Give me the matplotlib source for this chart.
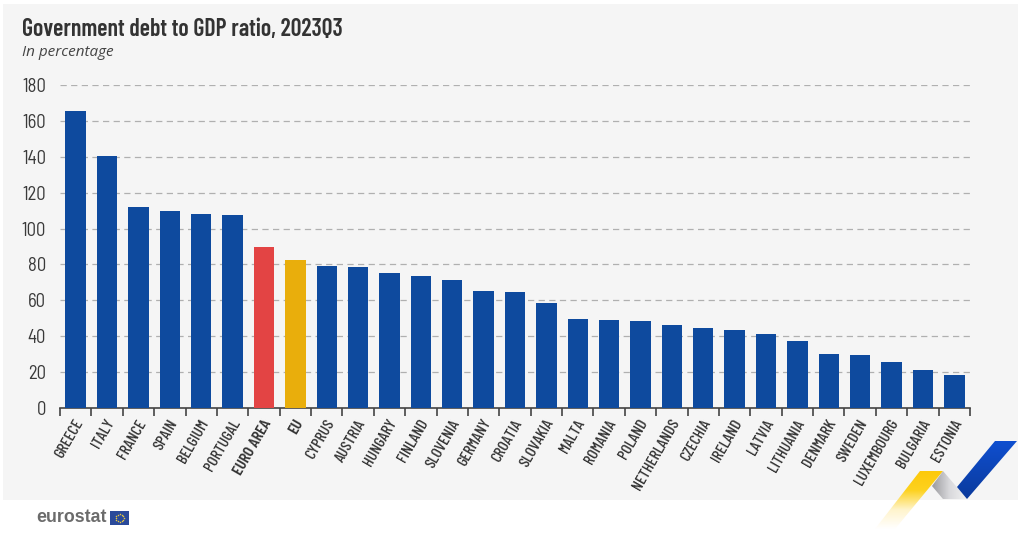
import numpy as np
import matplotlib
matplotlib.use('Agg')
import matplotlib.pyplot as plt
from matplotlib.patches import Polygon, Rectangle

countries = ['GREECE', 'ITALY', 'FRANCE', 'SPAIN', 'BELGIUM', 'PORTUGAL', 'EURO AREA', 'EU',
             'CYPRUS', 'AUSTRIA', 'HUNGARY', 'FINLAND', 'SLOVENIA', 'GERMANY', 'CROATIA',
             'SLOVAKIA', 'MALTA', 'ROMANIA', 'POLAND', 'NETHERLANDS', 'CZECHIA', 'IRELAND',
             'LATVIA', 'LITHUANIA', 'DENMARK', 'SWEDEN', 'LUXEMBOURG', 'BULGARIA', 'ESTONIA']
debt_ratio = [165.5, 140.6, 111.9, 109.8, 108.0, 107.5, 89.9, 82.6, 79.4, 78.3, 75.0, 73.6,
              71.5, 65.0, 64.6, 58.5, 49.4, 48.9, 48.7, 46.0, 44.6, 43.5, 41.4, 37.3, 30.1,
              29.6, 25.7, 21.0, 18.2]
y_ticks = [0, 20, 40, 60, 80, 100, 120, 140, 160, 180]

BLUE = '#0e4a9e'
RED = '#e34444'
YELLOW = '#e9ae0c'
TEXT = '#3a3a3a'
NARROW = ['Barlow Condensed', 'Roboto', 'DejaVu Sans']
SEMI = ['Barlow Semi Condensed', 'Roboto', 'DejaVu Sans']
W, H = 1024, 540

fig = plt.figure(figsize=(W / 100, H / 100), dpi=100, facecolor='white')

# background layer in pixel coords: panel, logos
bg = fig.add_axes([0, 0, 1, 1], zorder=0)
bg.set_xlim(0, W)
bg.set_ylim(H, 0)
bg.axis('off')
bg.add_patch(Rectangle((3, 4), 1015, 496, fc='#f5f5f5', ec='none'))


def gradient_poly(points, colors, extent, horizontal=False):
    ''' Polygon filled with a linear gradient between the given colours. '''
    cmap = matplotlib.colors.LinearSegmentedColormap.from_list('g', colors)
    grad = np.linspace(0, 1, 256)
    grad = grad.reshape(1, -1) if horizontal else grad.reshape(-1, 1)
    img = bg.imshow(grad, cmap=cmap, extent=extent, aspect='auto', origin='upper', zorder=2)
    patch = Polygon(points, closed=True, fc='none', ec='none', transform=bg.transData)
    bg.add_patch(patch)
    img.set_clip_path(patch)


gradient_poly([(920, 471), (943, 471), (895, 529), (875, 529)],
              ['#fdc90a', '#fdd21f', '#fff4cc', '#ffffff'], (875, 943, 529, 471))
gradient_poly([(943, 471), (967, 499), (943, 499), (932, 486)],
              ['#9a9a9e', '#d9d9dc', '#f2f2f2'], (932, 967, 499, 471), horizontal=True)
gradient_poly([(995, 441), (1017, 441), (967, 499), (957, 487)],
              ['#0f4fd0', '#0b3a9c'], (957, 1017, 499, 441))

# eurostat logo
bg.text(36, 518, 'eurostat', fontsize=12.8, fontweight='bold', color='#6b6b6b',
        family=['Liberation Sans', 'DejaVu Sans'], va='center', ha='left')
bg.add_patch(Rectangle((110, 511), 19, 14, fc='#2a4a9a', ec='none'))
star_angles = np.deg2rad(np.arange(0, 360, 30))
bg.scatter(119.5 + 4 * np.cos(star_angles), 518 + 4 * np.sin(star_angles), s=1.2,
           color='#e8c840', linewidths=0)

# main chart
ax = fig.add_axes([60 / W, 1 - 408 / H, 910 / W, 323 / H], zorder=1)
ax.patch.set_alpha(0)
colors = [BLUE] * len(countries)
colors[countries.index('EURO AREA')] = RED
colors[countries.index('EU')] = YELLOW
x = np.arange(len(countries))
ax.bar(x, debt_ratio, width=0.65, color=colors, zorder=3)
ax.set_xlim(-0.5, len(countries) - 0.5)
ax.set_ylim(0, 180)

ax.set_yticks(y_ticks)
ax.tick_params(axis='y', length=0, pad=10, labelsize=13.5, labelcolor=TEXT)
for lab in ax.get_yticklabels():
    lab.set_family(SEMI)
ax.yaxis.grid(True, color='#b0b0b0', linestyle=(0, (5, 3.5)), linewidth=0.9, zorder=1)

ax.set_xticks(np.arange(len(countries) + 1) - 0.5, labels=[])
ax.tick_params(axis='x', length=6, width=1.2, color='#444444', direction='out')
for side in ['top', 'right', 'left']:
    ax.spines[side].set_visible(False)
ax.spines['bottom'].set_color('#444444')
ax.spines['bottom'].set_linewidth(1.2)
ax.set_axisbelow(True)

for i, name in enumerate(countries):
    ax.annotate(name, xy=(i, 0), xycoords=('data', 'axes fraction'), xytext=(3, -9),
                textcoords='offset points', rotation=60, rotation_mode='anchor',
                ha='right', va='center', fontsize=11.5, color='#333333', family=NARROW,
                fontweight=600 if name in ('EURO AREA', 'EU') else 500)

bg.text(22, 30, 'Government debt to GDP ratio, 2023Q3', fontsize=17.2, fontweight=600,
        color='#333333', family=NARROW, va='center', ha='left')
bg.text(22, 53, 'In percentage', fontsize=11, style='italic', color='#444444',
        family=['Open Sans', 'DejaVu Sans'], va='center', ha='left')

plt.savefig('out.png', dpi=100)
plt.close()
